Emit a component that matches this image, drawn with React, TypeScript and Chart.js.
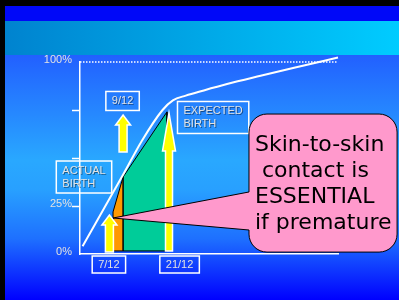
import React, { useEffect, useRef } from 'react';
import { Chart, registerables } from 'chart.js';

Chart.register(...registerables);

// Development timeline on an abstract 0..100 axis, percentage on y
const curveX = [1, 17, 24, 32, 36, 41, 48, 57, 70, 83, 100];
const curveY = [4, 42, 59, 75, 80, 82.5, 85.2, 88.5, 92.8, 97, 102.3];
const orangeX = [12.8, 16.7];
const orangeY = [21.9, 40.1];
const greenX = [16.7, 33.7];
const greenY = [40.1, 74];
const areaBase = 1.6;
const fullLevel = 100;

const yTicks = [0, 25, 50, 75, 100];
const yTickLabels = ['0%', '25%', '', '', '100%'];
const xTickValues = [11.2, 38.6];
const xTickLabels = ['7/12', '21/12'];

const arrowX = [11.4, 16.7, 34.5];
const arrowTop = [20.3, 72.4, 73.4];
const arrowBottom = [1.0, 53.1, 1.6];

const boxTexts = [['9/12'], ['ACTUAL', 'BIRTH'], ['EXPECTED', 'BIRTH']];
const boxX = [16.5, 1.55, 51.6];
const boxY = [79.7, 40.1, 71.1];

const calloutLines = ['Skin-to-skin', ' contact is', 'ESSENTIAL', 'if premature'];
const calloutLeft = 65.5;
const calloutRight = 122.9;
const calloutTop = 72.9;
const calloutBottom = 1.0;
const calloutTipX = 12.8;
const calloutTipY = 18.75;
const calloutBaseTop = 32.3;
const calloutBaseBottom = 12.5;

const LABEL_FONT = '11px "Liberation Sans", Arial, sans-serif';
const LABEL_COLOR = '#e2e2e2';

const arrowStyle = [
  { headW: 15, headH: 10, shaftW: 8 },
  { headW: 15, headH: 10, shaftW: 8 },
  { headW: 13, headH: 38, shaftW: 7 },
];

function drawArrow(ctx: CanvasRenderingContext2D, cx: number, top: number, bottom: number, s: { headW: number; headH: number; shaftW: number }) {
  ctx.beginPath();
  ctx.moveTo(cx - s.shaftW / 2, bottom);
  ctx.lineTo(cx - s.shaftW / 2, top + s.headH);
  ctx.lineTo(cx - s.headW / 2, top + s.headH);
  ctx.lineTo(cx, top);
  ctx.lineTo(cx + s.headW / 2, top + s.headH);
  ctx.lineTo(cx + s.shaftW / 2, top + s.headH);
  ctx.lineTo(cx + s.shaftW / 2, bottom);
  ctx.closePath();
  ctx.fillStyle = '#FFFF00';
  ctx.fill();
  ctx.strokeStyle = '#ffffff';
  ctx.lineWidth = 1.5;
  ctx.stroke();
}

const bgPlugin = {
  id: 'slideBg',
  beforeDraw(chart: any) {
    const { ctx, width, height } = chart;
    ctx.save();
    ctx.fillStyle = '#000000';
    ctx.fillRect(0, 0, width, height);
    ctx.fillStyle = '#0008F8';
    ctx.fillRect(5, 6, width - 5, 15);
    const g1 = ctx.createLinearGradient(5, 0, width, 0);
    g1.addColorStop(0, '#0083CF');
    g1.addColorStop(1, '#00CCFF');
    ctx.fillStyle = g1;
    ctx.fillRect(5, 21, width - 5, 34);
    const g2 = ctx.createLinearGradient(0, 55, 0, height);
    g2.addColorStop(0, '#2260FF');
    g2.addColorStop(0.43, '#29A8FF');
    g2.addColorStop(0.55, '#28A0FF');
    g2.addColorStop(0.75, '#1E70FF');
    g2.addColorStop(1, '#0000FF');
    ctx.fillStyle = g2;
    ctx.fillRect(5, 55, width - 5, height - 55);
    ctx.restore();
  },
};

const annoPlugin = {
  id: 'slideAnno',
  afterDraw(chart: any) {
    const { ctx } = chart;
    const xs = chart.scales.x;
    const ys = chart.scales.y;
    ctx.save();

    // arrows
    arrowX.forEach((ax, i) => {
      drawArrow(ctx, xs.getPixelForValue(ax), ys.getPixelForValue(arrowTop[i]), ys.getPixelForValue(arrowBottom[i]), arrowStyle[i]);
    });

    // boxed labels
    ctx.font = LABEL_FONT;
    ctx.textBaseline = 'middle';
    ctx.textAlign = 'left';
    boxTexts.forEach((lines, i) => {
      const w = Math.max(...lines.map((l) => ctx.measureText(l).width)) + 12;
      const h = lines.length * 13 + 6;
      const cx = xs.getPixelForValue(boxX[i]);
      const cy = ys.getPixelForValue(boxY[i]);
      const left = cx - w / 2;
      const top = cy - h / 2;
      ctx.strokeStyle = '#ffffff';
      ctx.lineWidth = 1.5;
      ctx.strokeRect(left, top, w, h);
      ctx.save();
      ctx.shadowColor = 'rgba(0,0,0,0.45)';
      ctx.shadowOffsetX = 1;
      ctx.shadowOffsetY = 1;
      ctx.fillStyle = LABEL_COLOR;
      lines.forEach((l, j) => ctx.fillText(l, left + 6, top + 9.5 + j * 13));
      ctx.restore();
    });

    // boxes around x tick labels
    xs.ticks.forEach((t: any, i: number) => {
      const w = ctx.measureText(xTickLabels[i]).width + 12;
      const cx = xs.getPixelForValue(t.value);
      ctx.strokeStyle = '#ffffff';
      ctx.lineWidth = 1.5;
      ctx.strokeRect(cx - w / 2, xs.top + 2, w, 17);
    });

    // callout
    const l = xs.getPixelForValue(calloutLeft);
    const r = xs.getPixelForValue(calloutRight);
    const t = ys.getPixelForValue(calloutTop);
    const b = ys.getPixelForValue(calloutBottom);
    const rad = 18;
    ctx.beginPath();
    ctx.moveTo(l + rad, t);
    ctx.lineTo(r - rad, t);
    ctx.arcTo(r, t, r, t + rad, rad);
    ctx.lineTo(r, b - rad);
    ctx.arcTo(r, b, r - rad, b, rad);
    ctx.lineTo(l + rad, b);
    ctx.arcTo(l, b, l, b - rad, rad);
    ctx.lineTo(l, ys.getPixelForValue(calloutBaseBottom));
    ctx.lineTo(xs.getPixelForValue(calloutTipX), ys.getPixelForValue(calloutTipY));
    ctx.lineTo(l, ys.getPixelForValue(calloutBaseTop));
    ctx.lineTo(l, t + rad);
    ctx.arcTo(l, t, l + rad, t, rad);
    ctx.closePath();
    ctx.fillStyle = '#FF99CC';
    ctx.fill();
    ctx.strokeStyle = '#000000';
    ctx.lineWidth = 1;
    ctx.stroke();

    ctx.font = '22px "Comic Sans MS", "DejaVu Sans", sans-serif';
    ctx.fillStyle = '#000000';
    ctx.textBaseline = 'middle';
    ctx.textAlign = 'left';
    calloutLines.forEach((line, i) => {
      ctx.fillText(line, l + 6, t + 31 + i * 26);
    });
    ctx.restore();
  },
};

export default function App() {
  const ref = useRef<HTMLCanvasElement>(null);

  useEffect(() => {
    if (!ref.current) return;
    const outline = [
      { x: orangeX[0], y: areaBase },
      { x: orangeX[0], y: orangeY[0] },
      { x: orangeX[1], y: orangeY[1] },
      { x: orangeX[1], y: areaBase },
      { x: greenX[0], y: greenY[0] },
      { x: greenX[1], y: greenY[1] },
      { x: greenX[1], y: areaBase },
      { x: orangeX[0], y: areaBase },
    ];
    const chart = new Chart(ref.current, {
      type: 'line',
      data: {
        datasets: [
          {
            data: curveX.map((x, i) => ({ x, y: curveY[i] })),
            borderColor: '#ffffff',
            borderWidth: 2,
            pointRadius: 0,
            cubicInterpolationMode: 'monotone',
            fill: false,
            clip: false,
            order: 0,
          } as any,
          {
            data: [{ x: 0, y: fullLevel }, { x: 100, y: fullLevel }],
            borderColor: '#ffffff',
            borderWidth: 1.5,
            borderDash: [1.5, 1.5],
            pointRadius: 0,
            fill: false,
            clip: false,
            order: 1,
          },
          {
            data: outline,
            borderColor: '#000000',
            borderWidth: 1,
            pointRadius: 0,
            fill: false,
            tension: 0,
            order: 2,
          },
          {
            data: orangeX.map((x, i) => ({ x, y: orangeY[i] })),
            borderWidth: 0,
            backgroundColor: '#FF9900',
            pointRadius: 0,
            fill: { value: areaBase },
            order: 3,
          } as any,
          {
            data: greenX.map((x, i) => ({ x, y: greenY[i] })),
            borderWidth: 0,
            backgroundColor: '#00CC99',
            pointRadius: 0,
            fill: { value: areaBase },
            order: 4,
          } as any,
        ],
      },
      options: {
        animation: false,
        responsive: false,
        events: [],
        layout: { padding: { top: 62, right: 61, left: 0, bottom: 0 } },
        plugins: { legend: { display: false }, tooltip: { enabled: false } },
        scales: {
          x: {
            type: 'linear',
            min: 0,
            max: 100,
            afterBuildTicks: (s: any) => {
              s.ticks = xTickValues.map((v) => ({ value: v }));
            },
            afterFit: (s: any) => {
              s.height = 46;
            },
            grid: { display: false, drawTicks: false },
            border: { display: true, color: '#ffffff', width: 1.5 },
            ticks: {
              autoSkip: false,
              maxRotation: 0,
              padding: 4,
              color: LABEL_COLOR,
              font: { family: '"Liberation Sans", Arial, sans-serif', size: 11 },
              callback: (_v: any, i: number) => xTickLabels[i],
            },
          },
          y: {
            type: 'linear',
            min: 0,
            max: 100,
            afterBuildTicks: (s: any) => {
              s.ticks = yTicks.map((v) => ({ value: v }));
            },
            afterFit: (s: any) => {
              s.width = 80;
            },
            grid: {
              display: true,
              drawOnChartArea: false,
              drawTicks: true,
              tickLength: 8,
              tickWidth: 1.5,
              tickColor: (c: any) => (c.tick && (c.tick.value === 0 || c.tick.value === 100) ? 'rgba(0,0,0,0)' : '#ffffff'),
            },
            border: { display: true, color: '#ffffff', width: 1.5 },
            ticks: {
              padding: 0,
              labelOffset: -2,
              color: LABEL_COLOR,
              font: { family: '"Liberation Sans", Arial, sans-serif', size: 11 },
              callback: (_v: any, i: number) => yTickLabels[i],
            },
          },
        },
      } as any,
      plugins: [bgPlugin, annoPlugin],
    });
    return () => chart.destroy();
  }, []);

  return (
    <div style={{ position: 'fixed', left: 0, top: 0, width: 399, height: 300 }}>
      <canvas ref={ref} width={399} height={300} style={{ display: 'block', width: 399, height: 300 }} />
    </div>
  );
}
